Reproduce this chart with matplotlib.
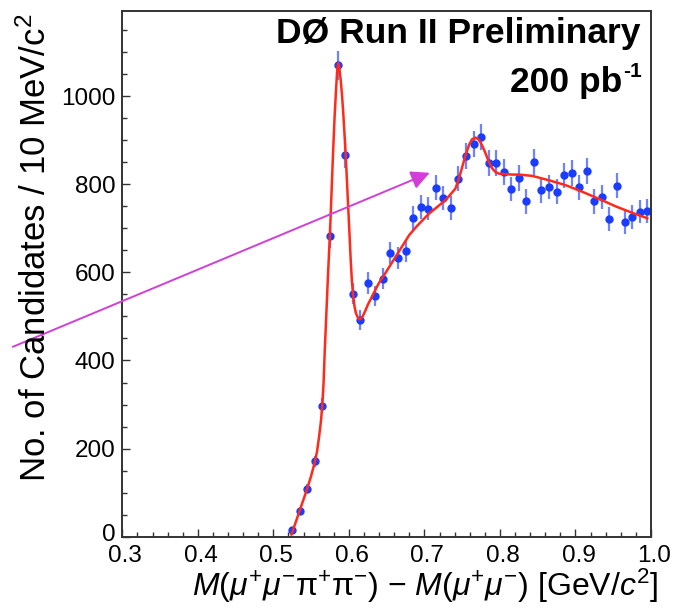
import numpy as np
import matplotlib
matplotlib.use("Agg")
import matplotlib.pyplot as plt
import matplotlib.transforms as mtransforms

plt.rcParams['font.family'] = ['Liberation Sans', 'DejaVu Sans']
plt.rcParams['mathtext.fontset'] = 'custom'
plt.rcParams['mathtext.rm'] = 'Liberation Sans'
plt.rcParams['mathtext.it'] = 'Liberation Sans:italic'
plt.rcParams['mathtext.bf'] = 'Liberation Sans:bold'

# ---- data (bin centres, counts, errors) ----
mass = [0.525, 0.535, 0.545, 0.555, 0.565, 0.575, 0.585, 0.595, 0.605, 0.615,
        0.625, 0.635, 0.645, 0.655, 0.665, 0.675, 0.685, 0.695, 0.705, 0.715,
        0.725, 0.735, 0.745, 0.755, 0.765, 0.775, 0.785, 0.795, 0.805, 0.815,
        0.825, 0.835, 0.845, 0.855, 0.865, 0.875, 0.885, 0.895, 0.905, 0.915,
        0.925, 0.935, 0.945, 0.955, 0.965, 0.975, 0.985, 0.995]
counts = [15, 59, 109, 171, 297, 682, 1070, 866, 552, 492,
          576, 547, 586, 644, 633, 648, 724, 748, 745, 792,
          769, 746, 813, 864, 891, 907, 848, 848, 828, 789,
          814, 761, 851, 786, 794, 783, 820, 826, 793, 830,
          761, 771, 721, 797, 714, 725, 738, 739]
errors = [4, 8, 10, 13, 17, 26, 33, 29, 23, 22,
          24, 23, 24, 25, 25, 25, 27, 27, 27, 28,
          28, 27, 28, 29, 30, 30, 29, 29, 29, 28,
          29, 28, 29, 28, 28, 28, 29, 29, 28, 29,
          28, 28, 27, 28, 27, 27, 27, 27]

# fit curve
fit_x = [0.524, 0.530, 0.535, 0.540, 0.545, 0.550, 0.555, 0.558, 0.5609, 0.5630,
         0.5648, 0.5665, 0.5680, 0.5700, 0.5725, 0.5750, 0.5770, 0.5790, 0.5810, 0.5830,
         0.5845, 0.5858, 0.5870, 0.5892, 0.5910, 0.5926, 0.5945, 0.5958, 0.5975, 0.5993,
         0.6010, 0.6024, 0.6040, 0.6058, 0.6075, 0.6094, 0.6120, 0.6147, 0.6170, 0.6191,
         0.6220, 0.6249, 0.630, 0.6395, 0.650, 0.6617, 0.680, 0.690, 0.7058, 0.728,
         0.741, 0.7455, 0.750, 0.7545, 0.759, 0.763, 0.7678, 0.7715, 0.774, 0.7775,
         0.781, 0.785, 0.7898, 0.794, 0.7987, 0.816, 0.825, 0.843, 0.865, 0.887,
         0.909, 0.931, 0.953, 0.9755, 0.995]
fit_y = [5, 35, 60, 85, 110, 138, 170, 195, 232, 262,
         298, 350, 420, 500, 600, 690, 780, 870, 950, 1015,
         1058, 1075, 1070, 1036, 1000, 960, 905, 866, 805, 741,
         680, 628, 580, 545, 522, 507, 497, 493, 497, 503,
         514, 526, 543, 575, 603, 635, 685, 705, 733, 764,
         790, 812, 839, 866, 889, 902, 906, 902, 896, 884,
         870, 852, 836, 828, 824, 822, 822, 819, 809, 798,
         783, 767, 750, 735, 723]

# arrow (data coordinates)
arrow_tail = (0.155, 431)
arrow_head = (0.707, 826)

xticks = [0.3, 0.4, 0.5, 0.6, 0.7, 0.8, 0.9, 1.0]
xticklabels = ['0.3', '0.4', '0.5', '0.6', '0.7', '0.8', '0.9', '1.0']
yticks = [0, 200, 400, 600, 800, 1000]

W, H = 685, 610
fig = plt.figure(figsize=(W / 100, H / 100), dpi=100)
ax = fig.add_axes([122.3 / W, 1 - 536.7 / H, (651 - 122.3) / W, (536.7 - 10.7) / H])

ax.plot(fit_x, fit_y, color='#ff2a1a', lw=1.8, zorder=3, solid_joinstyle='round')
ax.errorbar(mass, counts, yerr=errors, fmt='o', color='#1a3cff', ecolor='#7083ff',
            elinewidth=1.6, markersize=5, capsize=0, zorder=2)

ax.set_xlim(0.3, 1.0)
ax.set_ylim(0, 1194)
ax.set_xticks(xticks)
ax.set_xticklabels(xticklabels)
ax.set_yticks(yticks)
ax.set_xticks(np.arange(0.3, 1.0001, 0.02), minor=True)
ax.set_yticks(np.arange(0, 1194, 50), minor=True)
ax.tick_params(which='both', direction='in', colors='#333333', labelcolor='black',
               width=1.0)
ax.tick_params(which='major', length=6, labelsize=17.5)
ax.tick_params(which='minor', length=3.3)
ax.tick_params(axis='y', pad=5)
ax.tick_params(axis='x', pad=6)
for s in ax.spines.values():
    s.set_linewidth(1.4)
    s.set_color('#333333')

# nudge the "0" label slightly up and the x labels slightly right, as in the reference
fig.canvas.draw()
ylabs = ax.get_yticklabels()
ylabs[0].set_transform(ylabs[0].get_transform() +
                       mtransforms.ScaledTranslation(0, 4 / 100, fig.dpi_scale_trans))
for lab in ax.get_xticklabels():
    lab.set_transform(lab.get_transform() +
                      mtransforms.ScaledTranslation(3 / 100, 0, fig.dpi_scale_trans))

ax.annotate('', xy=arrow_head, xytext=arrow_tail, xycoords='data',
            arrowprops=dict(arrowstyle='-|>', color='#d23fd8', lw=1.4,
                            mutation_scale=28, shrinkA=0, shrinkB=0),
            annotation_clip=False, zorder=5)

fig.text(640 / W, 1 - 43.3 / H, 'DØ Run II Preliminary', fontsize=25.5,
         fontweight='bold', ha='right', va='baseline')
fig.text(622.7 / W, 1 - 91.7 / H, '200 pb', fontsize=25.5,
         fontweight='bold', ha='right', va='baseline')
fig.text(623.5 / W, 1 - 77 / H, '-1', fontsize=15,
         fontweight='bold', ha='left', va='baseline')

fig.text(36 / W, 1 - 248 / H, r'No. of Candidates / 10 MeV/c$^{2}$', fontsize=25,
         rotation=90, ha='center', va='center')
fig.text(658 / W, 1 - 596 / H,
         r'$M(\mu^{+}\mu^{-}\mathrm{\pi}^{+}\mathrm{\pi}^{-})$ $-$ $M(\mu^{+}\mu^{-})$ [GeV/$c^{2}$]',
         fontsize=23, ha='right', va='baseline')

fig.savefig('out.png', dpi=100)
